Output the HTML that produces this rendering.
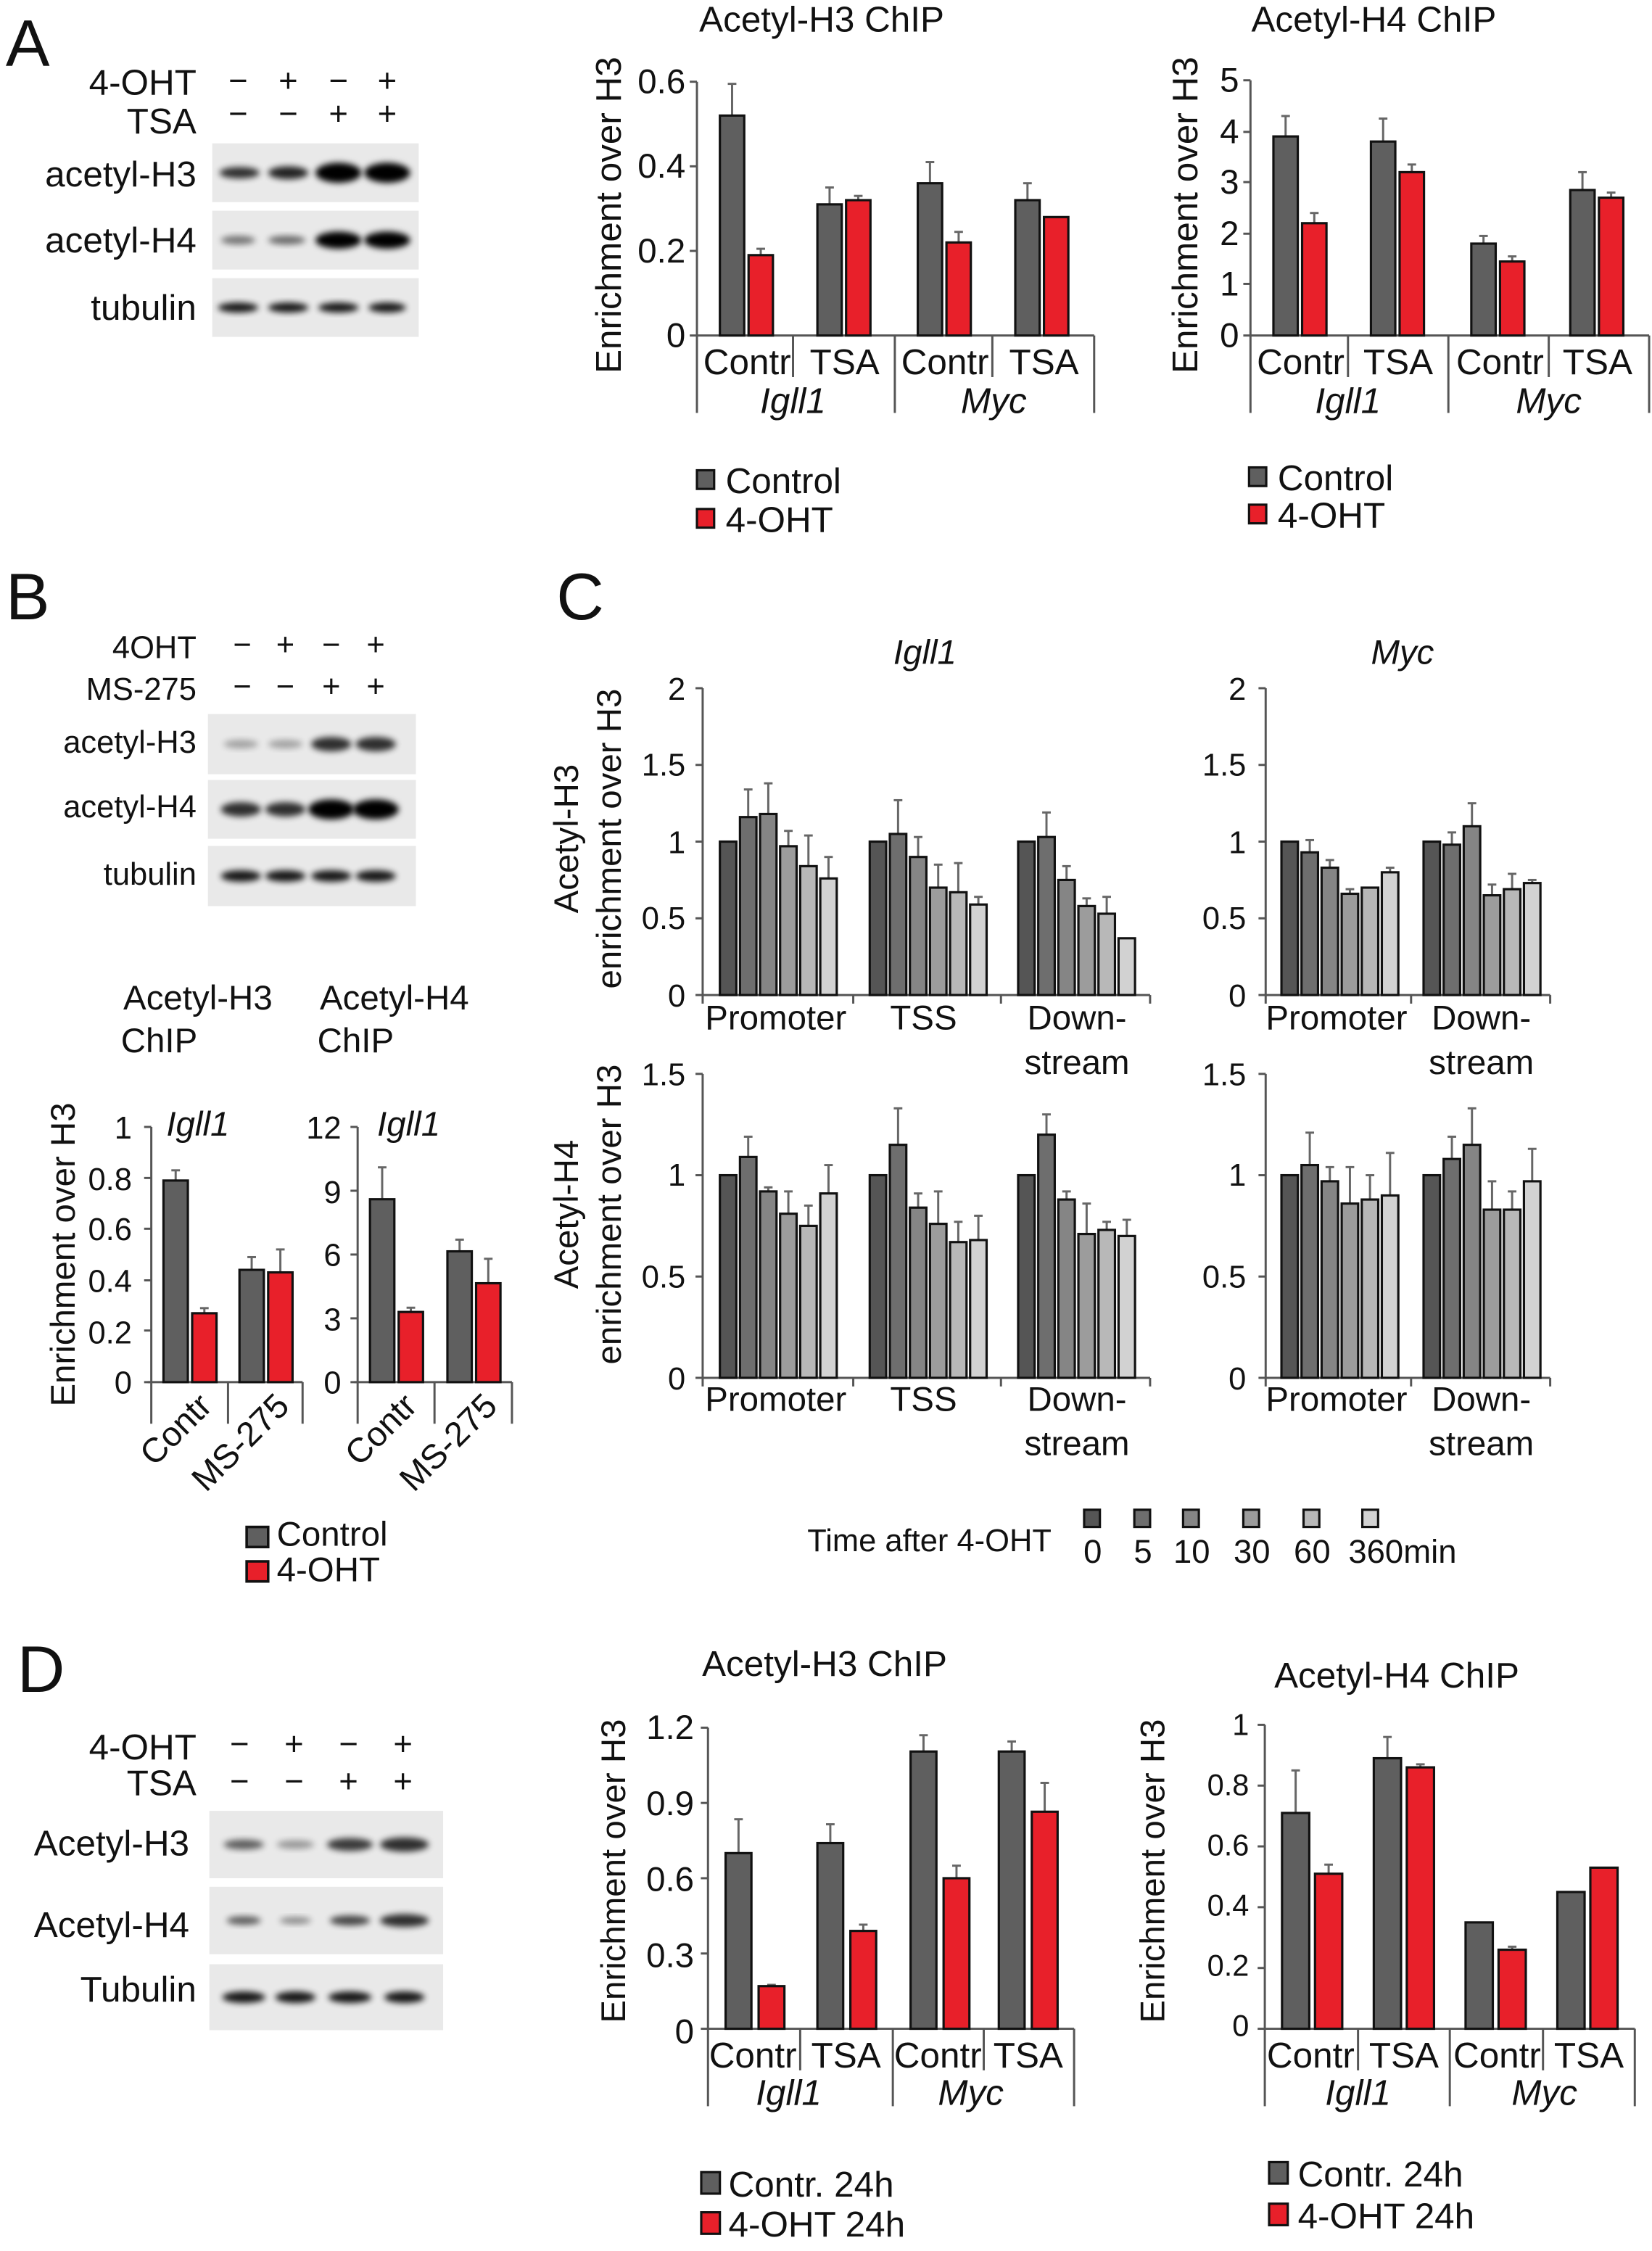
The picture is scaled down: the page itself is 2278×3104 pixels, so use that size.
<!DOCTYPE html>
<html><head><meta charset="utf-8"><style>
html,body{margin:0;padding:0;background:#fff}
svg{display:block}
text{font-family:"Liberation Sans",Arial,sans-serif;fill:#111}
.n{font-family:"Liberation Sans Narrow","Liberation Sans",sans-serif;font-stretch:condensed}
.i{font-style:italic}
</style></head><body>
<svg id="s" xmlns="http://www.w3.org/2000/svg" width="2278" height="3104" viewBox="0 0 1152 1570" preserveAspectRatio="none">
<defs><filter id="bl" x="-20%" y="-50%" width="140%" height="200%"><feGaussianBlur stdDeviation="2.2"/></filter></defs>
<g id="g"></g>
<text x="4" y="46" font-size="46">A</text>
<text x="4" y="432" font-size="46">B</text>
<text x="388" y="432" font-size="46">C</text>
<text x="12" y="1180" font-size="46">D</text>

<g class="n" font-size="25">
<text x="137" y="66" text-anchor="end" class="n">4-OHT</text>
<text x="137" y="93" text-anchor="end" class="n">TSA</text>
<text x="137" y="130" text-anchor="end" class="n">acetyl-H3</text>
<text x="137" y="176" text-anchor="end" class="n">acetyl-H4</text>
<text x="137" y="223" text-anchor="end" class="n">tubulin</text>
</g>
<g font-size="23" text-anchor="middle">
<text x="166" y="64">−</text><text x="201" y="64">+</text><text x="236" y="64">−</text><text x="270" y="64">+</text>
<text x="166" y="87">−</text><text x="201" y="87">−</text><text x="236" y="87">+</text><text x="270" y="87">+</text>
</g>

<text class="n" x="573" y="22" font-size="25" text-anchor="middle">Acetyl-H3 ChIP</text>
<text class="n" x="433" y="150" font-size="25" text-anchor="middle" transform="rotate(-90 433 150)">Enrichment over H3</text>
<g class="n" font-size="24" text-anchor="end">
<text class="n" x="478" y="65">0.6</text><text class="n" x="478" y="124">0.4</text><text class="n" x="478" y="183">0.2</text><text class="n" x="478" y="242">0</text>
</g>
<g class="n" font-size="25" text-anchor="middle">
<text class="n" x="521" y="261">Contr</text><text class="n" x="589" y="261">TSA</text><text class="n" x="659" y="261">Contr</text><text class="n" x="728" y="261">TSA</text>
<text class="n i" x="553" y="288">Igll1</text><text class="n i" x="693" y="288">Myc</text>
</g>
<text class="n" x="506" y="344" font-size="25">Control</text>
<text class="n" x="506" y="371" font-size="25">4-OHT</text>

<text class="n" x="958" y="22" font-size="25" text-anchor="middle">Acetyl-H4 ChIP</text>
<text class="n" x="835" y="150" font-size="25" text-anchor="middle" transform="rotate(-90 835 150)">Enrichment over H3</text>
<g class="n" font-size="24" text-anchor="end">
<text class="n" x="864" y="64">5</text><text class="n" x="864" y="100">4</text><text class="n" x="864" y="135">3</text><text class="n" x="864" y="171">2</text><text class="n" x="864" y="206">1</text><text class="n" x="864" y="242">0</text>
</g>
<g class="n" font-size="25" text-anchor="middle">
<text class="n" x="907" y="261">Contr</text><text class="n" x="975" y="261">TSA</text><text class="n" x="1046" y="261">Contr</text><text class="n" x="1114" y="261">TSA</text>
<text class="n i" x="940" y="288">Igll1</text><text class="n i" x="1080" y="288">Myc</text>
</g>
<text class="n" x="891" y="342" font-size="25">Control</text>
<text class="n" x="891" y="368" font-size="25">4-OHT</text>

<g font-size="22" text-anchor="end">
<text x="137" y="459">4OHT</text><text x="137" y="488">MS-275</text>
<text x="137" y="525">acetyl-H3</text><text x="137" y="570">acetyl-H4</text><text x="137" y="617">tubulin</text>
</g>
<g font-size="22" text-anchor="middle">
<text x="169" y="457">−</text><text x="199" y="457">+</text><text x="231" y="457">−</text><text x="262" y="457">+</text>
<text x="169" y="486">−</text><text x="199" y="486">−</text><text x="231" y="486">+</text><text x="262" y="486">+</text>
</g>
<g font-size="24" text-anchor="middle">
<text x="138" y="704">Acetyl-H3</text><text x="111" y="734">ChIP</text>
<text x="275" y="704">Acetyl-H4</text><text x="248" y="734">ChIP</text>
</g>
<text x="52" y="875" font-size="24" text-anchor="middle" transform="rotate(-90 52 875)">Enrichment over H3</text>
<g font-size="22" text-anchor="end">
<text x="92" y="794">1</text><text x="92" y="830">0.8</text><text x="92" y="865">0.6</text><text x="92" y="901">0.4</text><text x="92" y="937">0.2</text><text x="92" y="972">0</text>
<text x="238" y="794">12</text><text x="238" y="839">9</text><text x="238" y="883">6</text><text x="238" y="928">3</text><text x="238" y="972">0</text>
</g>
<text class="i" x="138" y="792" font-size="24" text-anchor="middle">Igll1</text>
<text class="i" x="285" y="792" font-size="24" text-anchor="middle">Igll1</text>
<g font-size="24" text-anchor="end">
<text x="149" y="982" transform="rotate(-45 149 982)">Contr</text>
<text x="203" y="982" transform="rotate(-45 203 982)">MS-275</text>
<text x="292" y="982" transform="rotate(-45 292 982)">Contr</text>
<text x="348" y="982" transform="rotate(-45 348 982)">MS-275</text>
</g>
<text x="193" y="1078" font-size="24">Control</text>
<text x="193" y="1103" font-size="24">4-OHT</text>

<text class="i" x="645" y="463" font-size="24" text-anchor="middle">Igll1</text>
<text class="i" x="978" y="463" font-size="24" text-anchor="middle">Myc</text>
<text x="403" y="585" font-size="24" text-anchor="middle" transform="rotate(-90 403 585)">Acetyl-H3</text>
<text x="433" y="585" font-size="24" text-anchor="middle" transform="rotate(-90 433 585)">enrichment over H3</text>
<text x="403" y="847" font-size="24" text-anchor="middle" transform="rotate(-90 403 847)">Acetyl-H4</text>
<text x="433" y="847" font-size="24" text-anchor="middle" transform="rotate(-90 433 847)">enrichment over H3</text>
<g font-size="22" text-anchor="end">
<text x="478" y="488">2</text><text x="478" y="541">1.5</text><text x="478" y="595">1</text><text x="478" y="648">0.5</text><text x="478" y="702">0</text>
<text x="869" y="488">2</text><text x="869" y="541">1.5</text><text x="869" y="595">1</text><text x="869" y="648">0.5</text><text x="869" y="702">0</text>
<text x="478" y="757">1.5</text><text x="478" y="827">1</text><text x="478" y="898">0.5</text><text x="478" y="969">0</text>
<text x="869" y="757">1.5</text><text x="869" y="827">1</text><text x="869" y="898">0.5</text><text x="869" y="969">0</text>
</g>
<g font-size="24" text-anchor="middle">
<text x="541" y="718">Promoter</text><text x="644" y="718">TSS</text><text x="751" y="718">Down-</text><text x="751" y="749">stream</text>
<text x="932" y="718">Promoter</text><text x="1033" y="718">Down-</text><text x="1033" y="749">stream</text>
<text x="541" y="984">Promoter</text><text x="644" y="984">TSS</text><text x="751" y="984">Down-</text><text x="751" y="1015">stream</text>
<text x="932" y="984">Promoter</text><text x="1033" y="984">Down-</text><text x="1033" y="1015">stream</text>
</g>
<text x="563" y="1082" font-size="22">Time after 4-OHT</text>
<g font-size="23" text-anchor="middle">
<text x="762" y="1090">0</text><text x="797" y="1090">5</text><text x="831" y="1090">10</text><text x="873" y="1090">30</text><text x="915" y="1090">60</text><text x="978" y="1090">360min</text>
</g>

<g class="n" font-size="25" text-anchor="end">
<text class="n" x="137" y="1227">4-OHT</text><text class="n" x="137" y="1252">TSA</text>
<text class="n" x="132" y="1294">Acetyl-H3</text><text class="n" x="132" y="1351">Acetyl-H4</text><text class="n" x="137" y="1396">Tubulin</text>
</g>
<g font-size="23" text-anchor="middle">
<text x="167" y="1224">−</text><text x="205" y="1224">+</text><text x="243" y="1224">−</text><text x="281" y="1224">+</text>
<text x="167" y="1250">−</text><text x="205" y="1250">−</text><text x="243" y="1250">+</text><text x="281" y="1250">+</text>
</g>
<text class="n" x="575" y="1169" font-size="25" text-anchor="middle">Acetyl-H3 ChIP</text>
<text x="436" y="1305" font-size="24" text-anchor="middle" transform="rotate(-90 436 1305)">Enrichment over H3</text>
<g class="n" font-size="24" text-anchor="end">
<text class="n" x="484" y="1213">1.2</text><text class="n" x="484" y="1266">0.9</text><text class="n" x="484" y="1319">0.6</text><text class="n" x="484" y="1372">0.3</text><text class="n" x="484" y="1425">0</text>
</g>
<g class="n" font-size="25" text-anchor="middle">
<text class="n" x="525" y="1442">Contr</text><text class="n" x="590" y="1442">TSA</text><text class="n" x="654" y="1442">Contr</text><text class="n" x="717" y="1442">TSA</text>
<text class="n i" x="550" y="1468">Igll1</text><text class="n i" x="677" y="1468">Myc</text>
</g>
<text class="n" x="508" y="1532" font-size="25">Contr. 24h</text>
<text class="n" x="508" y="1560" font-size="25">4-OHT 24h</text>
<text class="n" x="974" y="1177" font-size="25" text-anchor="middle">Acetyl-H4 ChIP</text>
<text x="812" y="1305" font-size="24" text-anchor="middle" transform="rotate(-90 812 1305)">Enrichment over H3</text>
<g font-size="21" text-anchor="end">
<text x="871" y="1210">1</text><text x="871" y="1252">0.8</text><text x="871" y="1294">0.6</text><text x="871" y="1336">0.4</text><text x="871" y="1378">0.2</text><text x="871" y="1420">0</text>
</g>
<g class="n" font-size="25" text-anchor="middle">
<text class="n" x="914" y="1442">Contr</text><text class="n" x="979" y="1442">TSA</text><text class="n" x="1044" y="1442">Contr</text><text class="n" x="1108" y="1442">TSA</text>
<text class="n i" x="947" y="1468">Igll1</text><text class="n i" x="1077" y="1468">Myc</text>
</g>
<text class="n" x="905" y="1525" font-size="25">Contr. 24h</text>
<text class="n" x="905" y="1554" font-size="25">4-OHT 24h</text>
</svg>
<script>
(function(){
var g=document.getElementById('g'),NS='http://www.w3.org/2000/svg';
function el(t,a){var e=document.createElementNS(NS,t);for(var k in a)e.setAttribute(k,a[k]);g.appendChild(e);return e;}
function line(x1,y1,x2,y2,c,w){el('line',{x1:x1,y1:y1,x2:x2,y2:y2,stroke:c||'#555',"stroke-width":w||1.5});}
var GR='#5f5f5f',RD='#e8202a';
function bar(x,w,y0,sc,v,e,f){var y=y0-v*sc;
 if(e&&e>v){var cx=x+w/2,ye=y0-e*sc;line(cx,y,cx,ye,'#666',1.5);line(cx-3,ye,cx+3,ye,'#666',1.5);}
 el('rect',{x:x,y:y,width:w,height:v*sc,fill:f,stroke:'#111','stroke-width':1.6});}
function yaxis(x,ytop,y0,ticks){line(x,ytop,x,y0);ticks.forEach(function(t){line(x-5,t,x,t);});}
function blot(x,y,w,h,bands){el('rect',{x:x,y:y,width:w,height:h,fill:'#e9e9e9'});
 bands.forEach(function(b){el('ellipse',{cx:b[0],cy:y+h/2,rx:b[1],ry:b[2],fill:'#000',opacity:b[3],filter:'url(#bl)'});});}
blot(148,100,144,41,[[167,14,4,.8],[201,14,4.5,.85],[236,16,7,1],[270,16,7,1]]);
blot(148,147,144,41,[[166,12,3,.5],[200,13,3,.55],[236,16,6,1],[270,16,6,1]]);
blot(148,194,144,41,[[166,14,3.5,.9],[201,14,3.5,.9],[236,14,3.5,.9],[270,13,3.5,.9]]);
blot(145,498,145,42,[[168,12,3,.3],[199,12,3,.3],[231,14,5,.8],[262,14,5,.8]]);
blot(145,544,145,41,[[168,14,5,.8],[199,14,5,.8],[231,16,7,1],[262,16,7,1]]);
blot(145,590,145,42,[[168,14,4,.9],[199,14,4,.9],[231,14,4,.9],[262,14,4,.9]]);
blot(146,1263,163,47,[[170,14,3.5,.6],[206,13,3,.35],[244,16,4.5,.75],[282,17,5,.8]]);
blot(146,1316,163,47,[[170,12,3,.6],[206,11,2.5,.4],[244,14,3.5,.7],[282,17,4.5,.8]]);
blot(146,1370,163,46,[[170,15,4,.9],[206,14,4,.9],[244,15,4,.9],[282,14,4,.9]]);
var y0=234,sc=(234-57)/0.6;
yaxis(486,57,y0,[57,116,175,234]);line(486,y0,763,y0);
[486,624,763].forEach(function(x){line(x,y0,x,288);});[553,692].forEach(function(x){line(x,y0,x,263);});
[[502,.52,.595,.19,.205],[570,.31,.35,.32,.33],[640,.36,.41,.22,.245],[708,.32,.36,.28,0]].forEach(function(d){
 bar(d[0],17,y0,sc,d[1],d[2],GR);bar(d[0]+20,17,y0,sc,d[3],d[4],RD);});
el('rect',{x:486,y:328,width:12,height:13,fill:GR,stroke:'#111','stroke-width':1.6});
el('rect',{x:486,y:355,width:12,height:13,fill:RD,stroke:'#111','stroke-width':1.6});
sc=(234-56)/5;
yaxis(872,56,y0,[56,92,127,163,198,234]);line(872,y0,1150,y0);
[872,1010,1150].forEach(function(x){line(x,y0,x,288);});[940,1080].forEach(function(x){line(x,y0,x,263);});
[[888,3.9,4.3,2.2,2.4],[956,3.8,4.25,3.2,3.35],[1026,1.8,1.95,1.45,1.55],[1095,2.85,3.2,2.7,2.8]].forEach(function(d){
 bar(d[0],17,y0,sc,d[1],d[2],GR);bar(d[0]+20,17,y0,sc,d[3],d[4],RD);});
el('rect',{x:871,y:326,width:12,height:13,fill:GR,stroke:'#111','stroke-width':1.6});
el('rect',{x:871,y:352,width:12,height:13,fill:RD,stroke:'#111','stroke-width':1.6});
y0=964;sc=(964-786);
yaxis(105.5,786,y0,[786,821.6,857,893,928,964]);line(103,y0,211,y0);[105.5,159,211].forEach(function(x){line(x,y0,x,993);});
bar(114,17,y0,sc,.79,.83,GR);bar(134,17,y0,sc,.27,.29,RD);bar(167,17,y0,sc,.44,.49,GR);bar(187,17,y0,sc,.43,.52,RD);
sc=(964-786)/12;
yaxis(249.4,786,y0,[786,830.5,875,919.5,964]);line(247,y0,357,y0);[249.4,303,357].forEach(function(x){line(x,y0,x,993);});
bar(258,17,y0,sc,8.6,10.1,GR);bar(278,17,y0,sc,3.3,3.5,RD);bar(312,17,y0,sc,6.15,6.7,GR);bar(332,17,y0,sc,4.65,5.8,RD);
el('rect',{x:172,y:1065,width:15,height:14,fill:GR,stroke:'#111','stroke-width':1.8});
el('rect',{x:172,y:1089,width:15,height:14,fill:RD,stroke:'#111','stroke-width':1.8});
var SH=['#555555','#6e6e6e','#858585','#9c9c9c','#b8b8b8','#d2d2d2'];
function cchart(ax,xend,y0,ytop,max,ticksN,divs,groups,data){
 var sc=(y0-ytop)/max;var t=[];for(var i=0;i<=ticksN;i++)t.push(ytop+(y0-ytop)*i/ticksN);
 yaxis(ax,ytop,y0,t);line(ax,y0,xend,y0);divs.forEach(function(x){line(x,y0,x,y0+6);});
 groups.forEach(function(gx,gi){data[gi].forEach(function(d,j){bar(gx+j*14,11.5,y0,sc,d[0],d[1],SH[j]);});});}
cchart(490,802,694,480,2,4,[490,595,698,802],[502,606.5,710],[
 [[1,1],[1.16,1.34],[1.18,1.38],[.97,1.07],[.84,1.04],[.76,.9]],
 [[1,1],[1.05,1.27],[.9,1.03],[.7,.85],[.67,.86],[.59,.64]],
 [[1,1],[1.03,1.19],[.75,.84],[.58,.63],[.53,.64],[.37,.37]]]);
cchart(882.6,1081,694,480,2,4,[882.6,984,1081],[893.6,992.7],[
 [[1,1],[.93,1.01],[.83,.88],[.66,.69],[.7,.7],[.8,.83]],
 [[1,1],[.98,1.06],[1.1,1.25],[.65,.72],[.69,.79],[.73,.75]]]);
cchart(490,802,961,749,1.5,3,[490,595,698,802],[502,606.5,710],[
 [[1,1],[1.09,1.19],[.92,.94],[.81,.92],[.75,.85],[.91,1.05]],
 [[1,1],[1.15,1.33],[.84,.91],[.76,.92],[.67,.77],[.68,.8]],
 [[1,1],[1.2,1.3],[.88,.92],[.71,.86],[.73,.77],[.7,.78]]]);
cchart(882.6,1081,961,749,1.5,3,[882.6,984,1081],[893.6,992.7],[
 [[1,1],[1.05,1.21],[.97,1.04],[.86,1.04],[.88,1],[.9,1.11]],
 [[1,1],[1.08,1.19],[1.15,1.33],[.83,.97],[.83,.92],[.97,1.13]]]);
[756,791,825,867,909,950].forEach(function(x,i){el('rect',{x:x,y:1053,width:11,height:12,fill:SH[i],stroke:'#111','stroke-width':1.6});});
y0=1415;sc=(1415-1205)/1.2;
yaxis(493.7,1205,y0,[1205,1257.5,1310,1362.5,1415]);line(493.7,y0,749,y0);
[493.7,622.6,749].forEach(function(x){line(x,y0,x,1469);});[558,686].forEach(function(x){line(x,y0,x,1444);});
[[506,.7,.835,.17,.175],[570,.74,.815,.39,.415],[635,1.105,1.17,.6,.65],[696.5,1.105,1.145,.865,.98]].forEach(function(d){
 bar(d[0],18,y0,sc,d[1],d[2],GR);bar(d[0]+23,18,y0,sc,d[3],d[4],RD);});
el('rect',{x:489,y:1515,width:13,height:15,fill:GR,stroke:'#111','stroke-width':1.6});
el('rect',{x:489,y:1543,width:13,height:15,fill:RD,stroke:'#111','stroke-width':1.6});
sc=(1415-1203)/1;
yaxis(882,1203,y0,[1203,1245.4,1287.8,1330.2,1372.6,1415]);line(882,y0,1140,y0);
[882,1011,1140].forEach(function(x){line(x,y0,x,1469);});[947,1076].forEach(function(x){line(x,y0,x,1444);});
[[894,.71,.85,.51,.54],[958,.89,.96,.86,.87],[1022,.35,.35,.26,.27],[1086,.45,.45,.53,.53]].forEach(function(d){
 bar(d[0],19,y0,sc,d[1],d[2],GR);bar(d[0]+23,19,y0,sc,d[3],d[4],RD);});
el('rect',{x:885,y:1508,width:13,height:15,fill:GR,stroke:'#111','stroke-width':1.6});
el('rect',{x:885,y:1537,width:13,height:15,fill:RD,stroke:'#111','stroke-width':1.6});
})();
</script>
</body></html>
